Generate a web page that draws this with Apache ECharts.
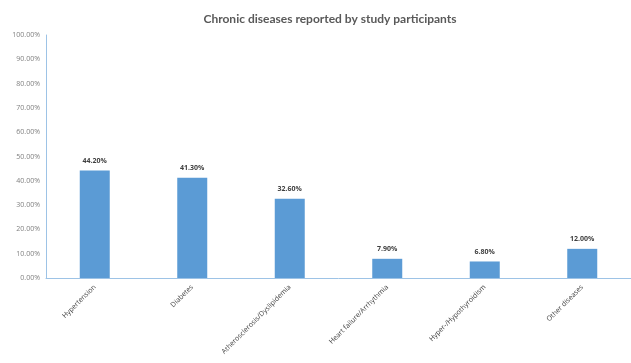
<!DOCTYPE html>
<html>
<head>
<meta charset="utf-8">
<script src="https://cdn.jsdelivr.net/npm/echarts@6/dist/echarts.min.js"></script>
<style>
html, body { margin: 0; padding: 0; background: #fff; }
#main { width: 631px; height: 363px; }
</style>
</head>
<body>
<div id="main"></div>
<script>
var categories = ['Hypertension', 'Diabetes', 'Atherosclerosis/Dyslipidemia', 'Heart failure/Arrhythmia', 'Hyper-/Hypothyroidism', 'Other diseases'];
var percents = [44.2, 41.3, 32.6, 7.9, 6.8, 12.0];
var yMin = 0, yMax = 100, yStep = 10;

var myChart = echarts.init(document.getElementById('main'));
var option = {
    animation: false,
    title: {
        text: 'Chronic diseases reported by study participants',
        left: 325,
        top: 8,
        textAlign: 'center',
        textStyle: {
            fontFamily: 'Lato',
            fontSize: 12,
            fontWeight: 'bold',
            color: '#595959'
        }
    },
    grid: {
        left: 46,
        top: 35,
        width: 589,
        height: 243
    },
    xAxis: {
        type: 'category',
        data: categories,
        axisLine: { lineStyle: { color: '#9dc3e6', width: 1 } },
        axisTick: { show: false },
        axisLabel: {
            rotate: 45,
            interval: 0,
            margin: 8,
            fontFamily: 'Open Sans',
            fontSize: 7,
            color: '#404040'
        }
    },
    yAxis: {
        type: 'value',
        min: yMin,
        max: yMax,
        interval: yStep,
        axisLine: { show: true, lineStyle: { color: '#9dc3e6', width: 1 } },
        axisTick: { show: false },
        splitLine: { show: false },
        axisLabel: {
            margin: 6,
            fontFamily: 'Open Sans',
            fontSize: 7,
            color: '#7f7f7f',
            formatter: function (v) { return v.toFixed(2) + '%'; }
        }
    },
    series: [{
        type: 'bar',
        data: percents,
        barWidth: 30,
        itemStyle: { color: '#5b9bd5' },
        label: {
            show: true,
            position: 'top',
            distance: 6,
            fontFamily: 'Open Sans',
            fontSize: 7,
            fontWeight: 'bold',
            color: '#404040',
            formatter: function (p) { return p.value.toFixed(2) + '%'; }
        }
    }]
};
myChart.setOption(option);
</script>
</body>
</html>
